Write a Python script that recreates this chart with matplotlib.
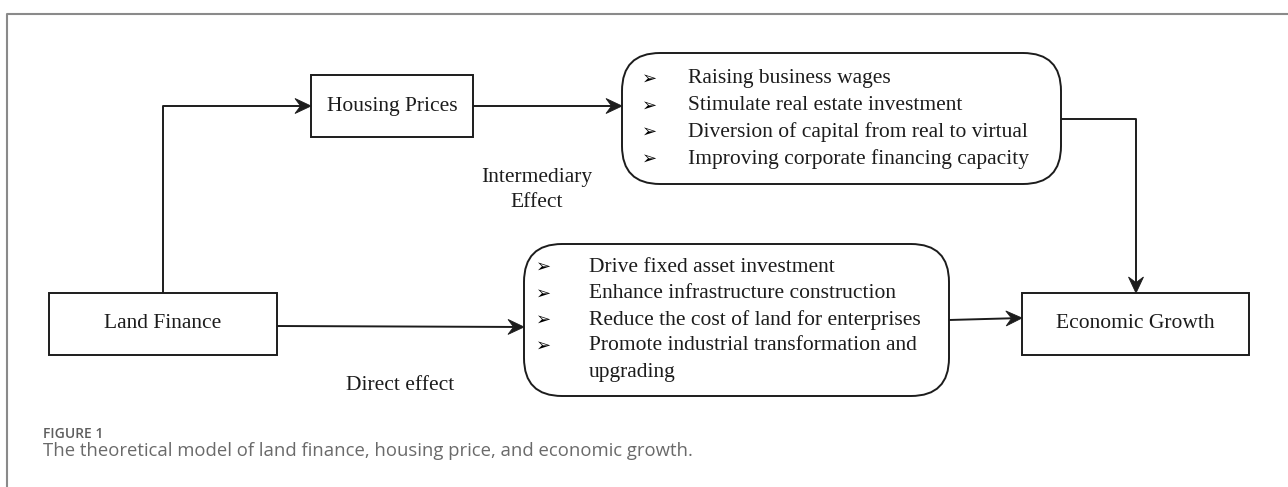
import numpy as np
import matplotlib.pyplot as plt
from matplotlib.patches import Rectangle, FancyBboxPatch, Polygon

# text content of the diagram
nodes = ["Housing Prices", "Land Finance", "Economic Growth"]
upper_items = ["Raising business wages",
               "Stimulate real estate investment",
               "Diversion of capital from real to virtual",
               "Improving corporate financing capacity"]
lower_items = ["Drive fixed asset investment",
               "Enhance infrastructure construction",
               "Reduce the cost of land for enterprises",
               "Promote industrial transformation and",
               "upgrading"]
lower_bullets = [True, True, True, True, False]
path_labels = ["Intermediary\nEffect", "Direct effect"]
caption_head = "FIGURE 1"
caption = "The theoretical model of land finance, housing price, and economic growth."

W, H = 1288, 487
fig = plt.figure(figsize=(W / 100, H / 100), dpi=100)
ax = fig.add_axes([0, 0, 1, 1])
ax.set_xlim(0, W)
ax.set_ylim(H, 0)
ax.axis('off')

ink = '#1c1c1c'
serif = 'Liberation Serif'
fs = 15.5
lw = 1.4


def box(x0, y0, x1, y1, label):
    ax.add_patch(Rectangle((x0, y0), x1 - x0, y1 - y0, fill=False, lw=lw, ec=ink))
    ax.text((x0 + x1) / 2, (y0 + y1) / 2, label, family=serif, fontsize=fs,
            color=ink, ha='center', va='center')


def rbox(x0, y0, x1, y1, r):
    ax.add_patch(FancyBboxPatch((x0 + r, y0 + r), x1 - x0 - 2 * r, y1 - y0 - 2 * r,
                                boxstyle=f"round,pad={r},rounding_size={r}",
                                fill=False, lw=lw, ec=ink))


def arrow(pts, L=16, hw=7.5):
    pts = np.array(pts, dtype=float)
    a, b = pts[-2], pts[-1]
    u = (b - a) / np.hypot(*(b - a))
    p = np.array([-u[1], u[0]])
    notch = b - 0.65 * L * u
    line = np.vstack([pts[:-1], notch])
    ax.plot(line[:, 0], line[:, 1], color=ink, lw=lw, solid_capstyle='butt')
    back = b - L * u
    ax.add_patch(Polygon([b, back + hw * p, notch, back - hw * p], closed=True,
                         fc=ink, ec=ink, lw=0.6))


def items(xb, xt, ys, texts, flags):
    for y, t, f in zip(ys, texts, flags):
        if f:
            ax.text(xb, y, "\u27a2", family='DejaVu Sans', fontsize=13,
                    color='#000000', ha='left', va='center')
        ax.text(xt, y, t, family=serif, fontsize=fs, color=ink, ha='left', va='center')


# outer frame (left and top)
ax.plot([7, 7, W], [H, 14, 14], color='#8a8a8a', lw=1.5)

# boxes
box(311, 75, 473, 137, nodes[0])
box(49, 293, 277, 355, nodes[1])
box(1022, 293, 1249, 355, nodes[2])
rbox(622, 53, 1061, 184, 38)
rbox(524, 244, 949, 396, 38)

items(642, 688, [79, 106, 132, 159], upper_items, [True] * 4)
items(536, 589, [267, 294, 320, 346, 372], lower_items, lower_bullets)

# connectors
arrow([(163, 293), (163, 106), (311, 106)])
arrow([(473, 106), (622, 106)])
arrow([(1061, 119), (1136, 119), (1136, 293)])
arrow([(277, 326), (524, 327)])
arrow([(949, 320), (1022, 318)])

ax.text(537, 190, path_labels[0], family=serif, fontsize=fs, color=ink,
        ha='center', va='center', linespacing=1.4)
ax.text(400, 385, path_labels[1], family=serif, fontsize=fs, color=ink,
        ha='center', va='center')

# caption
ax.text(43, 434, caption_head, family='Open Sans', fontsize=10, weight='semibold',
        color='#5e5e5e', ha='left', va='center')
ax.text(43, 451, caption, family='Open Sans', fontsize=13.3, color='#6a6a6a',
        ha='left', va='center')

fig.savefig('out.png', dpi=100)
